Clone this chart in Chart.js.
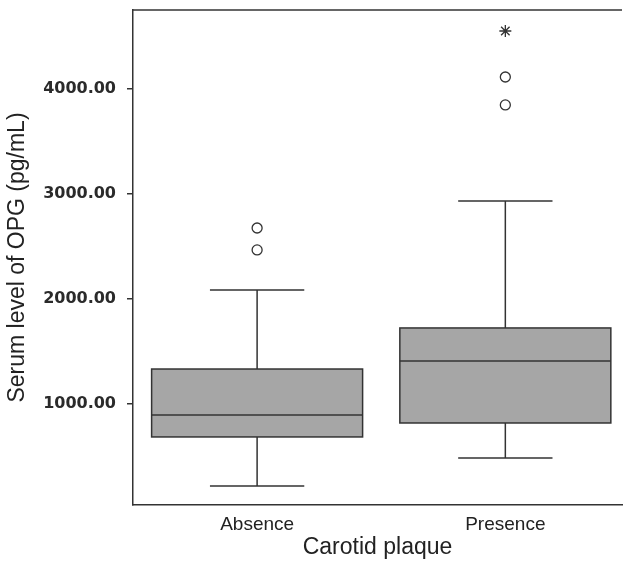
<!DOCTYPE html>
<html>
<head>
<meta charset="utf-8">
<script src="https://cdn.jsdelivr.net/npm/chart.js@4.4.1/dist/chart.umd.min.js"></script>
<style>
  html, body { margin: 0; padding: 0; background: #fff; }
  #wrap { width: 623px; height: 565px; }
</style>
</head>
<body>
<div id="wrap"><canvas id="myChart" width="623" height="565"></canvas></div>
<script>
const categories = ['Absence', 'Presence'];
const whiskerLow = [219, 486];
const q1 = [686, 819];
const median = [895, 1410];
const q3 = [1333, 1724];
const whiskerHigh = [2086, 2933];
const outliers = [[2467, 2676], [3848, 4114]];
const extremes = [[], [4552]];
const yTicks = [1000, 2000, 3000, 4000];

const lineColor = '#333';

const outlierPoints = [];
const extremePoints = [];
categories.forEach((c, i) => {
    outliers[i].forEach(v => outlierPoints.push({ x: i + 1, y: v }));
    extremes[i].forEach(v => extremePoints.push({ x: i + 1, y: v }));
});

const boxPlugin = {
    id: 'boxes',
    beforeDatasetsDraw(chart) {
        const ctx = chart.ctx;
        const xs = chart.scales.x;
        const ys = chart.scales.y;
        const area = chart.chartArea;
        const boxHalf = 0.425;
        const capHalf = 0.19;
        ctx.save();
        // frame top line
        ctx.strokeStyle = lineColor;
        ctx.lineWidth = 1.5;
        ctx.beginPath();
        ctx.moveTo(area.left, area.top);
        ctx.lineTo(area.right, area.top);
        ctx.stroke();
        categories.forEach((c, i) => {
            const cx = xs.getPixelForValue(i + 1);
            const left = xs.getPixelForValue(i + 1 - boxHalf);
            const right = xs.getPixelForValue(i + 1 + boxHalf);
            const capL = xs.getPixelForValue(i + 1 - capHalf);
            const capR = xs.getPixelForValue(i + 1 + capHalf);
            const yq1 = ys.getPixelForValue(q1[i]);
            const yq3 = ys.getPixelForValue(q3[i]);
            const ymed = ys.getPixelForValue(median[i]);
            const ylo = ys.getPixelForValue(whiskerLow[i]);
            const yhi = ys.getPixelForValue(whiskerHigh[i]);
            ctx.lineWidth = 1.5;
            ctx.strokeStyle = lineColor;
            // whiskers
            ctx.beginPath();
            ctx.moveTo(cx, yq3); ctx.lineTo(cx, yhi);
            ctx.moveTo(capL, yhi); ctx.lineTo(capR, yhi);
            ctx.moveTo(cx, yq1); ctx.lineTo(cx, ylo);
            ctx.moveTo(capL, ylo); ctx.lineTo(capR, ylo);
            ctx.stroke();
            // box
            ctx.fillStyle = '#a6a6a6';
            ctx.fillRect(left, yq3, right - left, yq1 - yq3);
            ctx.strokeRect(left, yq3, right - left, yq1 - yq3);
            // median
            ctx.beginPath();
            ctx.moveTo(left, ymed); ctx.lineTo(right, ymed);
            ctx.stroke();
        });
        ctx.restore();
    }
};

const ctx = document.getElementById('myChart').getContext('2d');
const myChart = new Chart(ctx, {
    type: 'scatter',
    data: {
        datasets: [{
            label: 'Outliers',
            data: outlierPoints,
            pointStyle: 'circle',
            pointRadius: 5,
            pointBorderWidth: 1.3,
            pointBorderColor: lineColor,
            pointBackgroundColor: '#fff'
        }, {
            label: 'Extremes',
            data: extremePoints,
            pointStyle: 'star',
            pointRadius: 6,
            pointBorderWidth: 1.3,
            pointBorderColor: lineColor,
            pointBackgroundColor: '#fff'
        }]
    },
    options: {
        responsive: false,
        animation: false,
        layout: { autoPadding: false, padding: { top: 10, right: 1, left: 0, bottom: 0 } },
        scales: {
            x: {
                type: 'linear',
                min: 0.5,
                max: 2.47,
                afterBuildTicks: (axis) => { axis.ticks = categories.map((c, i) => ({ value: i + 1 })); },
                afterFit: (axis) => { axis.height = 60; axis.paddingLeft = 0; axis.paddingRight = 0; },
                grid: { display: false, drawTicks: false },
                border: { display: true, color: lineColor, width: 1.5 },
                ticks: {
                    color: '#222',
                    padding: 8,
                    font: { family: 'Liberation Sans', size: 19 },
                    callback: (v) => categories[v - 1]
                },
                title: {
                    display: true,
                    text: 'Carotid plaque',
                    color: '#222',
                    font: { family: 'Liberation Sans', size: 23 },
                    padding: { top: 6 }
                }
            },
            y: {
                min: 38,
                max: 4752,
                afterBuildTicks: (axis) => { axis.ticks = yTicks.map(v => ({ value: v })); },
                afterFit: (axis) => { axis.width = 133; axis.paddingTop = 0; axis.paddingBottom = 0; },
                grid: { drawOnChartArea: false, drawTicks: true, tickLength: 6, color: lineColor, lineWidth: 1.5 },
                border: { display: true, color: lineColor, width: 1.5 },
                ticks: {
                    color: '#2a2a2a',
                    padding: 11,
                    font: { family: 'DejaVu Sans', size: 16, weight: 'bold' },
                    callback: (v) => v.toFixed(2)
                },
                title: {
                    display: true,
                    text: 'Serum level of OPG (pg/mL)',
                    color: '#222',
                    font: { family: 'Liberation Sans', size: 23 },
                    padding: { top: 4, bottom: 0 }
                }
            }
        },
        plugins: {
            legend: { display: false },
            tooltip: { enabled: false }
        }
    },
    plugins: [boxPlugin]
});
</script>
</body>
</html>
